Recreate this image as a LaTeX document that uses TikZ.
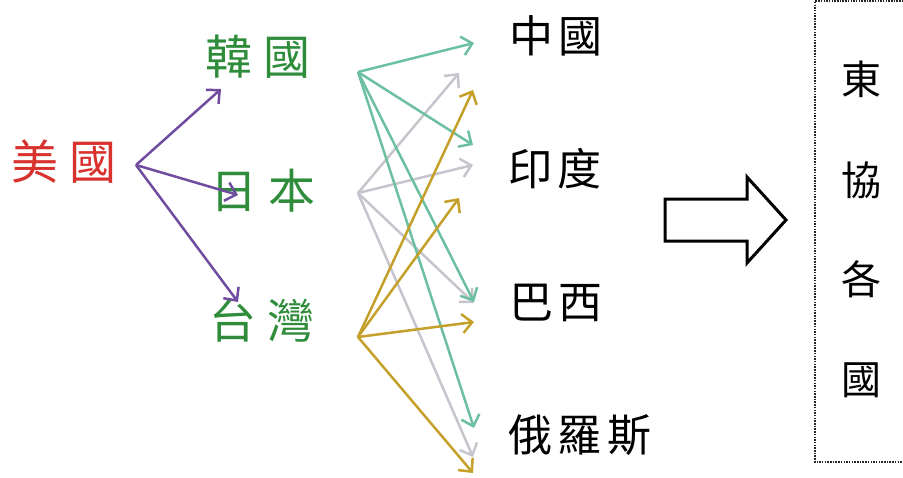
\documentclass[tikz,border=0pt]{standalone}
\usepackage{fontspec}
\newfontfamily\cjk{Noto Sans CJK TC}
\usetikzlibrary{arrows.meta}
\definecolor{usred}{HTML}{D8322E}
\definecolor{allygreen}{HTML}{2E8C3A}
\definecolor{arrpurple}{HTML}{6F4C9E}
\definecolor{arrteal}{HTML}{6DBFA2}
\definecolor{arrgrey}{HTML}{C6C4CC}
\definecolor{arrgold}{HTML}{C4A02A}
\tikzset{
  lbl/.style={font=\cjk\fontsize{44}{44}\selectfont, inner sep=0pt, anchor=center},
  big/.style={font=\cjk\fontsize{47}{47}\selectfont},
  conn/.style={line width=2.5pt, -{Straight Barb[length=10pt,width=19pt,line width=2.5pt]}},
}
\newcommand{\gp}{\hspace{6pt}}
\begin{document}
\begin{tikzpicture}[x=1pt,y=-1pt]
\useasboundingbox (0,0) rectangle (903,477);
% labels
\node[lbl, big, text=usred] (us) at (64,162) {美\hspace{12pt}國};
\node[lbl, big, text=allygreen] (kr) at (258,57) {韓\hspace{11pt}國};
\node[lbl, big, text=allygreen] (jp) at (263,191) {日\hspace{12pt}本};
\node[lbl, big, text=allygreen] (tw) at (262,321) {台\hspace{12pt}灣};
\node[lbl] (cn) at (556,36) {中\gp 國};
\node[lbl] (in) at (555,169) {印\gp 度};
\node[lbl] (br) at (556,303) {巴\gp 西};
\node[lbl] (ru) at (580,435) {俄\gp 羅\gp 斯};
% vertical box text
\node[lbl, font=\cjk\fontsize{40}{40}\selectfont] (a1) at (861,79) {東};
\node[lbl, font=\cjk\fontsize{40}{40}\selectfont] (a2) at (861,180) {協};
\node[lbl, font=\cjk\fontsize{40}{40}\selectfont] (a3) at (861,279) {各};
\node[lbl, font=\cjk\fontsize{40}{40}\selectfont] (a4) at (861,380) {國};
\draw[black!85, line width=2pt, dash pattern=on 1.5pt off 1.2pt] (906,1) -- (815,1) -- (815,462) -- (906,462);
% hollow arrow
\draw[line width=3pt, line join=miter, fill=white]
  (665,199) -- (747,199) -- (747,177) -- (786,220) -- (747,263) -- (747,241) -- (665,241) -- cycle;
% connector coordinates
\coordinate (usS) at (136,165);
\coordinate (krE) at (221,89);
\coordinate (jpE) at (238,195);
\coordinate (twE) at (238,302);
\coordinate (krS) at (358,72);
\coordinate (jpS) at (358,193);
\coordinate (twS) at (358,337);
\coordinate (cnK) at (474,43);
\coordinate (inK) at (473,145);
\coordinate (brK) at (474,302);
\coordinate (ruK) at (474,428);
\coordinate (cnJ) at (459,73);
\coordinate (inJ) at (473,165);
\coordinate (brJ) at (474,303);
\coordinate (ruJ) at (473,457);
\coordinate (cnT) at (473,90);
\coordinate (inT) at (459,198);
\coordinate (brT) at (474,322);
\coordinate (ruT) at (473,473);
% grey
\draw[conn, arrgrey] (jpS) -- (cnJ);
\draw[conn, arrgrey] (jpS) -- (inJ);
\draw[conn, arrgrey] (jpS) -- (brJ);
\draw[conn, arrgrey] (jpS) -- (ruJ);
% teal
\draw[conn, arrteal] (krS) -- (cnK);
\draw[conn, arrteal] (krS) -- (inK);
\draw[conn, arrteal] (krS) -- (brK);
\draw[conn, arrteal] (krS) -- (ruK);
% gold
\draw[conn, arrgold] (twS) -- (cnT);
\draw[conn, arrgold] (twS) -- (inT);
\draw[conn, arrgold] (twS) -- (brT);
\draw[conn, arrgold] (twS) -- (ruT);
% purple
\draw[conn, arrpurple] (usS) -- (krE);
\draw[conn, arrpurple] (usS) -- (jpE);
\draw[conn, arrpurple] (usS) -- (twE);
\end{tikzpicture}
\end{document}
